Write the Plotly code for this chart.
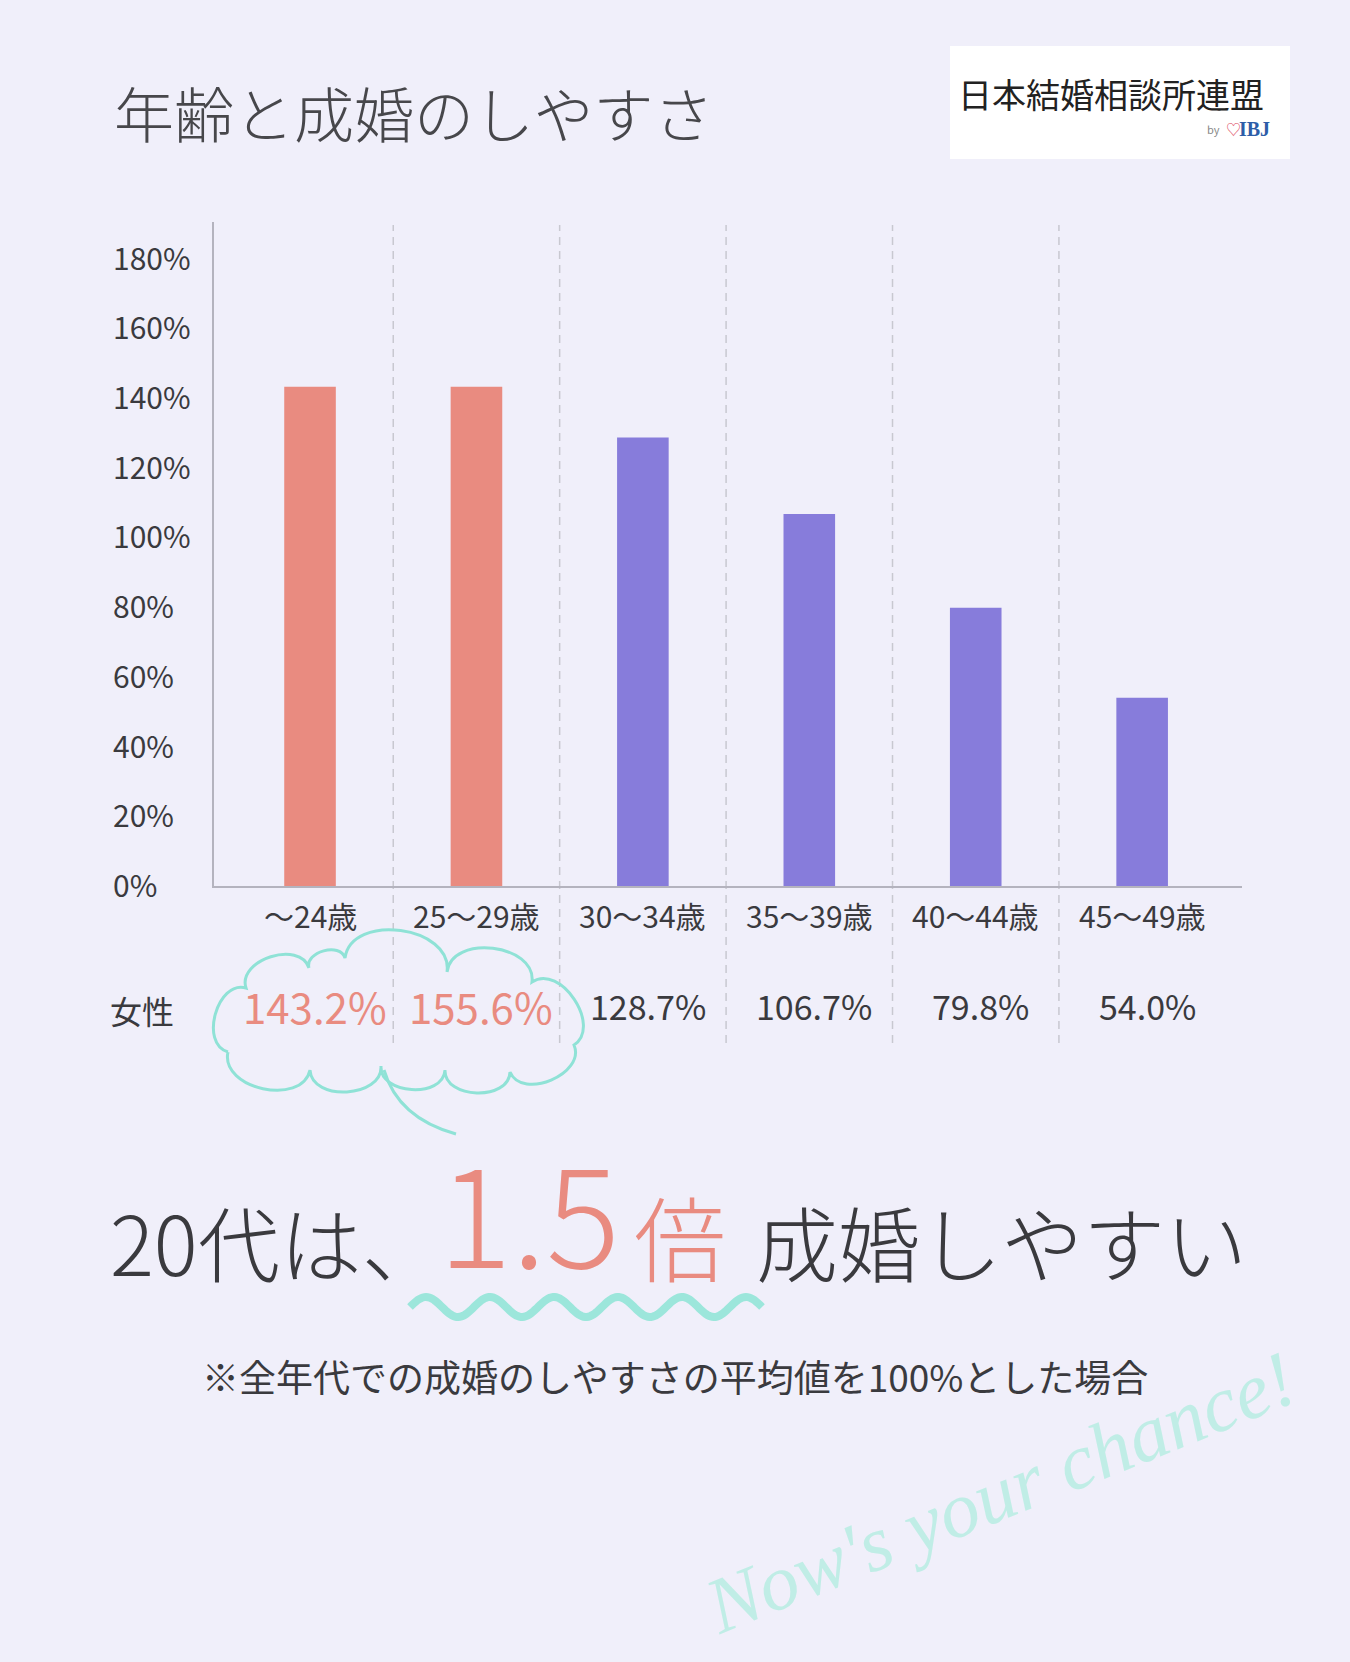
import numpy as np
import plotly.graph_objects as go

W, H = 1350, 1662

# ---------------- data ----------------
categories = ["～24歳", "25～29歳", "30～34歳", "35～39歳", "40～44歳", "45～49歳"]
bar_values = [143.2, 143.2, 128.7, 106.7, 79.8, 54.0]      # bar heights as drawn
label_values = [143.2, 155.6, 128.7, 106.7, 79.8, 54.0]    # values printed in the 女性 row
highlight = [True, True, False, False, False, False]
y_ticks = [0, 20, 40, 60, 80, 100, 120, 140, 160, 180]

title_text = "年齢と成婚のしやすさ"
row_label = "女性"
footnote = "※全年代での成婚のしやすさの平均値を100%とした場合"

# ---------------- style ----------------
BG = "#F0EFFA"
SALMON = "#E98B80"
PURPLE = "#877CDB"
DARK = "#3A3A3E"
TEAL = "#8FE2D6"
FONT = "Noto Sans CJK JP"


def X(px):
    return px / W


def Y(py):
    return 1 - py / H


bar_colors = [SALMON if h else PURPLE for h in highlight]

fig = go.Figure()
fig.add_trace(go.Bar(
    x=categories, y=bar_values, width=0.31,
    marker=dict(color=bar_colors, line=dict(width=0)),
    hoverinfo="skip",
))

annotations = []
shapes = []

# y tick labels (left aligned)
for v in y_ticks:
    annotations.append(dict(
        xref="paper", yref="y", x=X(111), y=v, xanchor="left", yanchor="middle",
        yshift=2, text=f"{v}%", showarrow=False,
        font=dict(family=FONT, size=30, color=DARK)))

# category labels
for c in categories:
    annotations.append(dict(
        xref="x", yref="paper", x=c, y=Y(915), xanchor="center", yanchor="middle",
        text=c, showarrow=False, font=dict(family=FONT, size=30, color=DARK)))

# value row
annotations.append(dict(
    xref="paper", yref="paper", x=X(108), y=Y(1010), xanchor="left", yanchor="middle",
    text=row_label, showarrow=False, font=dict(family=FONT, size=32, color=DARK)))
for c, v, h in zip(categories, label_values, highlight):
    annotations.append(dict(
        xref="x", yref="paper", x=c, y=Y(1005), xanchor="center", yanchor="middle",
        xshift=5, text=f"{v:.1f}%", showarrow=False,
        font=dict(family=FONT, size=42 if h else 34, color=SALMON if h else DARK)))

# dashed separators
for i in range(len(categories) - 1):
    shapes.append(dict(
        type="line", xref="x", yref="paper", x0=i + 0.5, x1=i + 0.5,
        y0=Y(1043), y1=Y(225), layer="below",
        line=dict(color="#C8C8D0", width=1.5, dash="8px,6px")))

# title
annotations.append(dict(
    xref="paper", yref="paper", x=X(112), y=Y(112), xanchor="left", yanchor="middle",
    text=title_text, showarrow=False,
    font=dict(family=FONT, size=60, color="#47474B", weight=300)))

# logo box
shapes.append(dict(type="rect", xref="paper", yref="paper",
                   x0=X(950), x1=X(1290), y0=Y(159), y1=Y(46),
                   fillcolor="white", line=dict(width=0), layer="below"))
annotations.append(dict(
    xref="paper", yref="paper", x=X(956), y=Y(93), xanchor="left", yanchor="middle",
    text="日本結婚相談所連盟", showarrow=False,
    font=dict(family=FONT, size=34, color="#222222")))
annotations.append(dict(
    xref="paper", yref="paper", x=X(1222), y=Y(129), xanchor="right", yanchor="middle",
    text="by", showarrow=False, font=dict(family=FONT, size=11, color="#888888")))
annotations.append(dict(
    xref="paper", yref="paper", x=X(1233), y=Y(128), xanchor="center", yanchor="middle",
    text="♡", showarrow=False, font=dict(family=FONT, size=15, color="#E0556A")))
annotations.append(dict(
    xref="paper", yref="paper", x=X(1272), y=Y(129), xanchor="right", yanchor="middle",
    text="IBJ", showarrow=False,
    font=dict(family="Liberation Serif", size=20, color="#2D5DA8", weight="bold")))

# cloud around highlighted labels
cloud_pts = [(228, 1052), (246, 988), (309, 968), (345, 958), (447, 972), (532, 982),
             (574, 1045), (510, 1072), (445, 1070), (381, 1066), (310, 1070), (228, 1052)]
ccx, ccy = 400, 1020
path = [f"M {X(cloud_pts[0][0])},{Y(cloud_pts[0][1])}"]
for (ax, ay), (bx, by) in zip(cloud_pts[:-1], cloud_pts[1:]):
    dx, dy = bx - ax, by - ay
    L = (dx * dx + dy * dy) ** 0.5
    nx, ny = dy / L, -dx / L
    mx, my = (ax + bx) / 2, (ay + by) / 2
    if nx * (mx - ccx) + ny * (my - ccy) < 0:
        nx, ny = -nx, -ny
    hb = 0.45 * L
    path.append(f"C {X(ax + nx * hb)},{Y(ay + ny * hb)} {X(bx + nx * hb)},{Y(by + ny * hb)} {X(bx)},{Y(by)}")
shapes.append(dict(type="path", xref="paper", yref="paper", path=" ".join(path),
                   line=dict(color=TEAL, width=3)))
shapes.append(dict(type="path", xref="paper", yref="paper",
                   path=f"M {X(384)},{Y(1070)} Q {X(398)},{Y(1118)} {X(456)},{Y(1134)}",
                   line=dict(color=TEAL, width=3)))

# headline
annotations.append(dict(
    xref="paper", yref="paper", x=X(108), y=Y(1240), xanchor="left", yanchor="middle",
    text="20代は、", showarrow=False,
    font=dict(family=FONT, size=82, color=DARK, weight=300)))
annotations.append(dict(
    xref="paper", yref="paper", x=X(436), y=Y(1208), xanchor="left", yanchor="middle",
    text="1.5", showarrow=False,
    font=dict(family=FONT, size=138, color=SALMON, weight=300)))
annotations.append(dict(
    xref="paper", yref="paper", x=X(632), y=Y(1234), xanchor="left", yanchor="middle",
    text="倍", showarrow=False,
    font=dict(family=FONT, size=92, color=SALMON, weight=300)))
annotations.append(dict(
    xref="paper", yref="paper", x=X(754), y=Y(1240), xanchor="left", yanchor="middle",
    text="成婚しやすい", showarrow=False,
    font=dict(family=FONT, size=82, color=DARK, weight=300)))

# wavy underline
wx = np.linspace(410, 762, 220)
wy = 1307 - 10 * np.sin(2 * np.pi * (wx - 410) / 64)
wpath = "M " + " L ".join(f"{X(a):.5f},{Y(b):.5f}" for a, b in zip(wx, wy))
shapes.append(dict(type="path", xref="paper", yref="paper", path=wpath,
                   line=dict(color="#9CE6DB", width=8)))

# footnote
annotations.append(dict(
    xref="paper", yref="paper", x=X(675), y=Y(1376), xanchor="center", yanchor="middle",
    text=footnote, showarrow=False, font=dict(family=FONT, size=37, color=DARK)))

# "Now's your chance!"
annotations.append(dict(
    xref="paper", yref="paper", x=X(1000), y=Y(1492), xanchor="center", yanchor="middle",
    text="Now's your chance!", showarrow=False, textangle=-22,
    font=dict(family="Liberation Serif", size=79, color="#C0EDE6", style="italic")))

fig.update_layout(
    width=W, height=H,
    margin=dict(l=0, r=0, t=0, b=0, autoexpand=False),
    paper_bgcolor=BG, plot_bgcolor=BG,
    showlegend=False,
    xaxis=dict(domain=[X(214), X(1242)], range=[-0.577, 5.6], type="category",
               showticklabels=False, showgrid=False, zeroline=False,
               showline=True, linecolor="#B4B3BE", linewidth=2, ticks=""),
    yaxis=dict(domain=[Y(886), Y(222)], range=[0, 190.5], tickvals=y_ticks,
               showticklabels=False, showgrid=False, zeroline=False,
               showline=True, linecolor="#B4B3BE", linewidth=2, ticks=""),
    annotations=annotations,
    shapes=shapes,
    hovermode=False,
)

fig.write_html("out.html", config={"displayModeBar": False})
